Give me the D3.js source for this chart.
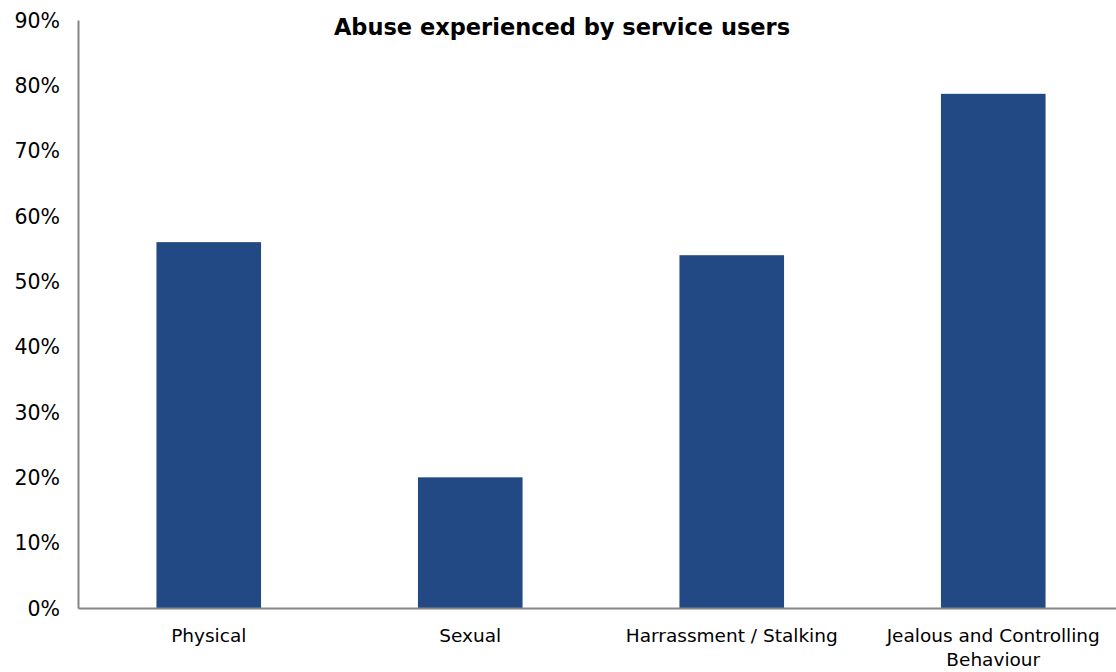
<!DOCTYPE html>
<html>
<head>
<meta charset="utf-8">
<script src="https://cdn.jsdelivr.net/npm/d3@7"></script>
<style>
  body { margin: 0; background: #fff; }
  text { font-family: "DejaVu Sans", Tahoma, sans-serif; }
</style>
</head>
<body>
<div id="container"></div>
<script>
// chart data
const categories = ["Physical", "Sexual", "Harrassment / Stalking", "Jealous and Controlling Behaviour"]
const values = [0.56, 0.20, 0.54, 0.787]
const yTicks = [0, 0.1, 0.2, 0.3, 0.4, 0.5, 0.6, 0.7, 0.8, 0.9]
const title = "Abuse experienced by service users"

const margin = { top: 20, right: -8, bottom: 64, left: 78 }
const width = 1116 - margin.left - margin.right
const height = 672 - margin.top - margin.bottom

const svg = d3.select("#container")
  .append("svg")
  .attr("width", 1116)
  .attr("height", 672)
  .style("background-color", "#fff")

const g = svg.append("g")
  .attr("transform", `translate(${margin.left}, ${margin.top})`)

const xScale = d3.scaleBand()
  .domain(categories)
  .range([0, width])
  .paddingInner(0.6)
  .paddingOuter(0.3)

const yScale = d3.scaleLinear()
  .domain([0, 0.9])
  .range([height, 0])

// y axis
const yAxis = g.append("g")
  .call(d3.axisLeft(yScale).tickValues(yTicks).tickFormat(d3.format(".0%")).tickSize(0).tickPadding(18))
yAxis.select(".domain").attr("stroke", "#868686").attr("stroke-width", 2)
yAxis.selectAll("text")
  .style("font-family", "DejaVu Sans, sans-serif")
  .style("font-size", "20.5px")
  .attr("fill", "#000")
  .attr("dy", "0.35em")

// bars
g.append("g")
  .selectAll("rect")
  .data(categories)
  .join("rect")
  .attr("x", d => xScale(d))
  .attr("y", (d, i) => yScale(values[i]))
  .attr("width", xScale.bandwidth())
  .attr("height", (d, i) => height - yScale(values[i]))
  .attr("fill", "#224984")

// x axis
const xAxis = g.append("g")
  .attr("transform", `translate(0, ${height})`)
  .call(d3.axisBottom(xScale).tickSize(0).tickPadding(21))
xAxis.select(".domain").attr("stroke", "#868686").attr("stroke-width", 2)
xAxis.selectAll("text")
  .style("font-family", "DejaVu Sans, sans-serif")
  .style("font-size", "18.5px")
  .attr("fill", "#000")
  .each(function (d) {
    // wrap the long label onto two lines
    if (d === "Jealous and Controlling Behaviour") {
      const t = d3.select(this)
      t.text(null)
      t.append("tspan").attr("x", 0).attr("dy", "0.71em").text("Jealous and Controlling")
      t.append("tspan").attr("x", 0).attr("dy", "1.3em").text("Behaviour")
    }
  })

// title
svg.append("text")
  .attr("x", 562)
  .attr("y", 35)
  .attr("text-anchor", "middle")
  .style("font-size", "22.5px")
  .style("font-weight", "bold")
  .text(title)
</script>
</body>
</html>
